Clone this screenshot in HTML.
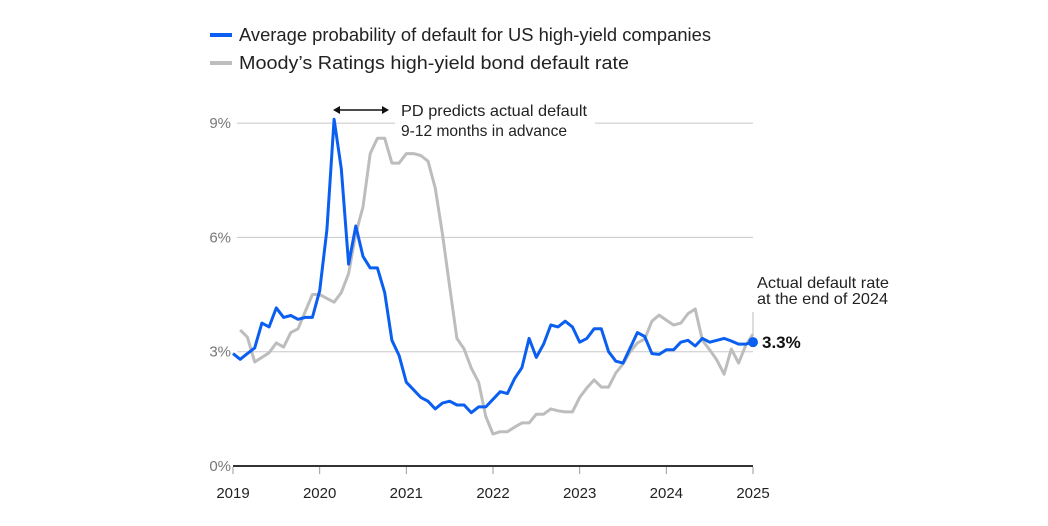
<!DOCTYPE html>
<html><head><meta charset="utf-8"><style>
body{margin:0;background:#fff;font-family:"Liberation Sans",sans-serif;}
svg text{font-family:"Liberation Sans",sans-serif;}
</style></head><body>
<svg id="chart" width="1048" height="521" viewBox="0 0 1048 521" xmlns="http://www.w3.org/2000/svg">
<g>
<line x1="210" y1="35" x2="232" y2="35" stroke="#0a5ff0" stroke-width="4"/>
<text x="239" y="41" font-size="18" textLength="472" lengthAdjust="spacingAndGlyphs" fill="#222">Average probability of default for US high-yield companies</text>
<line x1="210" y1="63" x2="232" y2="63" stroke="#bdbdbd" stroke-width="4"/>
<text x="239" y="69" font-size="18" textLength="390" lengthAdjust="spacingAndGlyphs" fill="#222">Moody’s Ratings high-yield bond default rate</text>
</g>
<g id="grid"></g>
<g id="series"></g>
<rect x="395" y="98" width="200" height="42" fill="#fff"/>
<g>
<line x1="338" y1="110" x2="384" y2="110" stroke="#111" stroke-width="1.5"/>
<polygon points="333,110 340,106 340,114" fill="#111"/>
<polygon points="389,110 382,106 382,114" fill="#111"/>
<text x="401" y="116" font-size="16" textLength="186" lengthAdjust="spacingAndGlyphs" fill="#222">PD predicts actual default</text>
<text x="401" y="136" font-size="16" textLength="166" lengthAdjust="spacingAndGlyphs" fill="#222">9-12 months in advance</text>
</g>
<g>
<text x="757" y="288" font-size="16" textLength="132" lengthAdjust="spacingAndGlyphs" fill="#222">Actual default rate</text>
<text x="757" y="304" font-size="16" textLength="131" lengthAdjust="spacingAndGlyphs" fill="#222">at the end of 2024</text>
<line x1="753" y1="312" x2="753" y2="334" stroke="#bbb" stroke-width="1"/>
</g>
</svg>
<script>
const years=["2019","2020","2021","2022","2023","2024","2025"];
const yTicks=[0,3,6,9];
const pdValues=[2.95,2.8,2.95,3.1,3.75,3.65,4.15,3.9,3.95,3.85,3.9,3.9,4.6,6.2,9.1,7.8,5.3,6.3,5.5,5.2,5.2,4.55,3.3,2.9,2.2,2.0,1.8,1.7,1.5,1.65,1.7,1.6,1.6,1.4,1.55,1.55,1.75,1.95,1.9,2.3,2.58,3.35,2.85,3.2,3.7,3.65,3.8,3.65,3.25,3.35,3.6,3.6,3.0,2.75,2.7,3.1,3.5,3.4,2.95,2.93,3.05,3.05,3.25,3.3,3.15,3.35,3.25,3.3,3.35,3.28,3.2,3.2,3.25];
const moodysValues=[null,3.57,3.38,2.73,2.85,2.97,3.23,3.12,3.5,3.6,4.05,4.5,4.5,4.4,4.3,4.55,5.05,6.1,6.8,8.2,8.6,8.6,7.95,7.95,8.2,8.2,8.15,8.0,7.3,6.1,4.7,3.35,3.07,2.57,2.2,1.3,0.84,0.9,0.9,1.02,1.13,1.13,1.36,1.36,1.5,1.45,1.42,1.42,1.8,2.05,2.26,2.07,2.07,2.44,2.68,3.0,3.23,3.33,3.8,3.96,3.83,3.7,3.75,4.0,4.12,3.3,3.05,2.78,2.41,3.07,2.7,3.17,3.46];
const endLabel="3.3%";
const X0=233,X1=753,Y0=466,PER=38.1;
const xm=i=>X0+(X1-X0)*i/72;
const yv=v=>Y0-v*PER;
const NS="http://www.w3.org/2000/svg";
const grid=document.getElementById('grid'),ser=document.getElementById('series');
function mk(tag,attrs,parent){const e=document.createElementNS(NS,tag);for(const k in attrs)e.setAttribute(k,attrs[k]);parent.appendChild(e);return e;}
yTicks.forEach(t=>{
  if(t>0){const l=mk('line',{x1:237,x2:X1,y1:yv(t),y2:yv(t),stroke:'#c8c8c8','stroke-width':1},grid);
  
  }
  const tx=mk('text',{x:231,y:yv(t)+5,'font-size':15,fill:'#777','text-anchor':'end'},grid);
  tx.textContent=t+'%';
  
  
});
const base=mk('line',{x1:X0,x2:X1,y1:Y0,y2:Y0,stroke:'#333','stroke-width':2},grid);


years.forEach((y,k)=>{
  const x=xm(k*12);
  mk('line',{x1:x,x2:x,y1:Y0+1,y2:Y0+8,stroke:'#999','stroke-width':1},grid);
  const tx=mk('text',{x:x,y:498,'font-size':15,fill:'#222','text-anchor':'middle'},grid);
  tx.textContent=y;
  
  
});
function path(vals){let d='';vals.forEach((v,i)=>{if(v==null)return;d+=(d?'L':'M')+xm(i).toFixed(1)+','+yv(v).toFixed(1);});return d;}
const g=mk('path',{d:path(moodysValues),fill:'none',stroke:'#bdbdbd','stroke-width':3,'stroke-linejoin':'round'},ser);


const b=mk('path',{d:path(pdValues),fill:'none',stroke:'#0a5ff0','stroke-width':3,'stroke-linejoin':'round'},ser);


const last=pdValues.length-1;
const dot=mk('circle',{cx:xm(last),cy:yv(pdValues[last]),r:5,fill:'#0a5ff0'},ser);


const lab=mk('text',{x:xm(last)+9,y:yv(pdValues[last])+6,'font-size':17,'font-weight':'bold',fill:'#111'},ser);
lab.textContent=endLabel;


</script>
</body></html>
